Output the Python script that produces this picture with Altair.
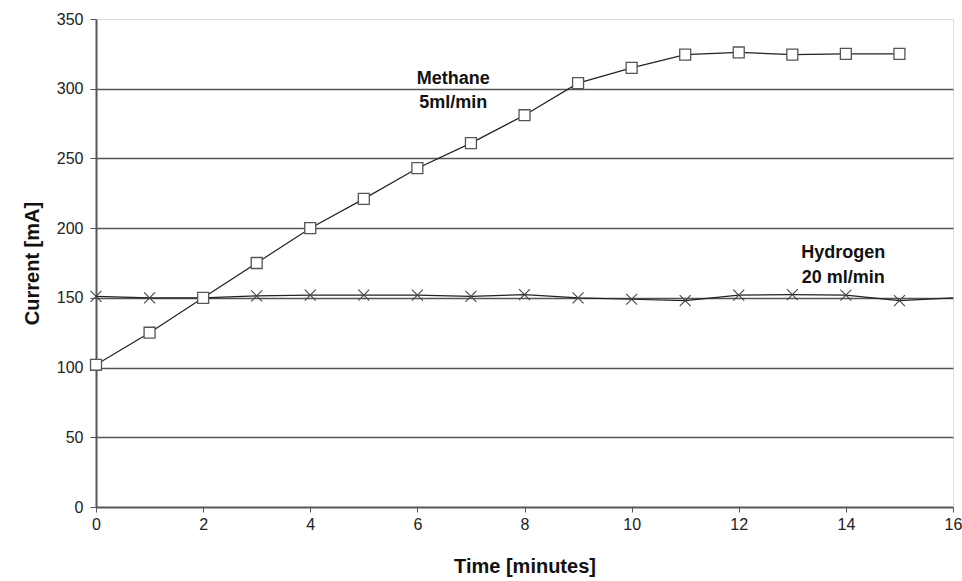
import altair as alt
import pandas as pd

time_min = list(range(16))
methane = [102, 125, 150, 175, 200, 221, 243, 261, 281, 304, 315, 324.5, 326, 324.5, 325, 325]
hydrogen = [151, 150, 150, 151.4, 152, 152, 152, 151, 152.3, 150, 149, 148, 152, 152.3, 152, 148]
hydrogen_tail_x = [15, 16]
hydrogen_tail_y = [148, 150]

label_text = ["Methane", "5ml/min", "Hydrogen", "20 ml/min"]
label_x = [6.67, 6.67, 13.95, 13.95]
label_y = [303.2, 286.0, 178.4, 160.7]

FONT = "Liberation Sans"

df_m = pd.DataFrame({"t": time_min, "v": methane})
df_h = pd.DataFrame({"t": time_min, "v": hydrogen})
df_ht = pd.DataFrame({"t": hydrogen_tail_x, "v": hydrogen_tail_y})
df_l = pd.DataFrame({"t": label_x, "v": label_y, "txt": label_text})

xs = alt.Scale(domain=[0, 16], nice=False)
ys = alt.Scale(domain=[0, 350], nice=False)

x_enc = alt.X("t:Q", scale=xs, axis=alt.Axis(
    title="Time [minutes]", values=list(range(0, 17, 2)), grid=False,
    tickSize=5, labelPadding=4, titlePadding=24,
    labelFontSize=16, titleFontSize=20, titleFontWeight="bold",
    labelFont=FONT, titleFont=FONT, domainColor="#555", tickColor="#555",
    labelColor="#222", titleColor="#111", domainWidth=2, labelFlush=False))
y_enc = alt.Y("v:Q", scale=ys, axis=alt.Axis(
    title="Current [mA]", values=list(range(0, 351, 50)), grid=True,
    gridColor="#555", gridWidth=1.5,
    gridOpacity=alt.condition("datum.value >= 350 || datum.value <= 0", alt.value(0), alt.value(1)),
    tickSize=6, labelPadding=7, titlePadding=14,
    labelFontSize=16, titleFontSize=20, titleFontWeight="bold",
    labelFont=FONT, titleFont=FONT, domainColor="#555", tickColor="#555",
    labelColor="#222", titleColor="#111", domainWidth=2))

m_line = alt.Chart(df_m).mark_line(color="#222", strokeWidth=1.2).encode(x=x_enc, y=y_enc)
m_pts = alt.Chart(df_m).mark_point(shape="square", filled=True, fill="white", stroke="#555",
                                    strokeWidth=1.3, size=120, opacity=1).encode(x="t:Q", y="v:Q")
h_line = alt.Chart(df_h).mark_line(color="#222", strokeWidth=1.2).encode(x="t:Q", y="v:Q")
h_tail = alt.Chart(df_ht).mark_line(color="#222", strokeWidth=1.2).encode(x="t:Q", y="v:Q")
h_pts = alt.Chart(df_h).mark_point(shape="M-1,-1L1,1M-1,1L1,-1", filled=False, stroke="#444",
                                    strokeWidth=1.1, size=120, opacity=1).encode(x="t:Q", y="v:Q")
labels = alt.Chart(df_l).mark_text(font=FONT, fontSize=18, fontWeight="bold", color="#111",
                                   baseline="alphabetic").encode(
    x="t:Q", y="v:Q", text="txt:N")

chart = alt.layer(m_line, h_line, h_tail, h_pts, m_pts, labels).properties(
    width=857, height=488,
    autosize=alt.AutoSizeParams(type="none"),
    padding={"left": 96, "top": 19, "right": 9, "bottom": 74},
).configure_view(stroke=None).configure(background="white")

chart.save("out.html", embed_options={"renderer": "svg", "actions": False})
